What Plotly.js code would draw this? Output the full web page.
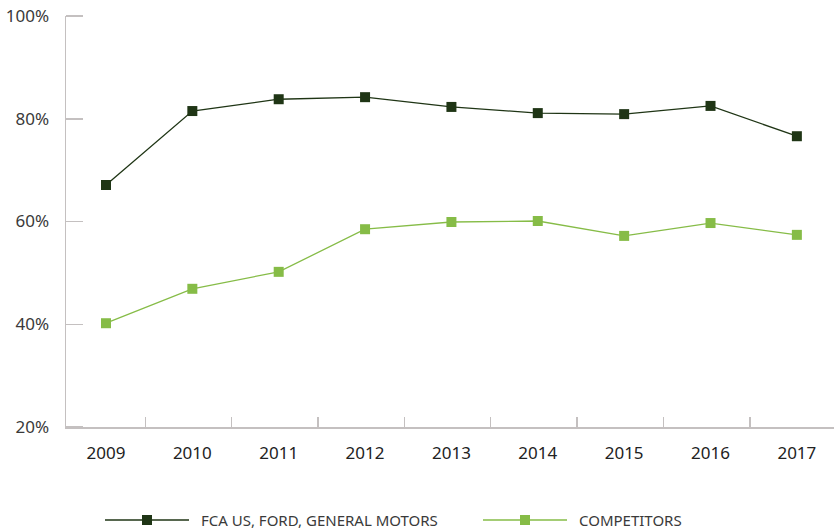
<!DOCTYPE html>
<html>
<head>
<meta charset="utf-8">
<script src="https://cdn.plot.ly/plotly-3.0.1.min.js"></script>
<style>html,body{margin:0;padding:0;background:#fff;}#chart{width:834px;height:529px;}</style>
</head>
<body>
<div id="chart"></div>
<script>
const years = ["2009","2010","2011","2012","2013","2014","2015","2016","2017"];
const detroitThree = [67.1, 81.5, 83.8, 84.2, 82.3, 81.1, 80.9, 82.5, 76.6];
const competitors = [40.2, 46.9, 50.2, 58.5, 59.9, 60.1, 57.2, 59.7, 57.4];
const seriesNames = ["FCA US, FORD, GENERAL MOTORS", "COMPETITORS"];
const yTicks = [20, 40, 60, 80, 100];
const yTickText = yTicks.map(v => v + "%");

const colors = ["#1f3515", "#86bc47"];
const xIdx = years.map((_, i) => i);
const boundaries = years.slice(1).map((_, i) => i + 0.455);

const fam = "Noto Sans, Open Sans, sans-serif";
const axisCol = "#c4c0c0";

const traces = [detroitThree, competitors].map((vals, k) => ({
  x: xIdx, y: vals, name: seriesNames[k], type: "scatter", mode: "lines+markers",
  showlegend: false,
  line: {color: colors[k], width: 1.3}, marker: {symbol: "square", size: 10, color: colors[k]}
}));

// custom legend (long line samples like the reference)
const legendX = [105, 483];
const legendLen = 84;
const legendY = 520;
const shapes = [];
const annotations = [];
legendX.forEach((px, k) => {
  shapes.push({type: "line", xref: "paper", yref: "paper",
    x0: (px - 66) / 768, x1: (px + legendLen - 66) / 768,
    y0: (427 - legendY) / 411, y1: (427 - legendY) / 411,
    line: {color: colors[k], width: 1.5}});
  const cx = px + legendLen / 2;
  shapes.push({type: "rect", xref: "paper", yref: "paper",
    x0: (cx - 5 - 66) / 768, x1: (cx + 5 - 66) / 768,
    y0: (427 - legendY - 5) / 411, y1: (427 - legendY + 5) / 411,
    fillcolor: colors[k], line: {width: 0}});
  annotations.push({xref: "paper", yref: "paper", x: (px + legendLen + 10 - 66) / 768,
    y: (427 - legendY) / 411, xanchor: "left", yanchor: "middle", showarrow: false,
    text: seriesNames[k], font: {family: fam, size: 15, color: "#3a3a3a"}});
});

const layout = {
  width: 834, height: 529,
  margin: {l: 66, r: 0, t: 16, b: 102},
  paper_bgcolor: "#fff", plot_bgcolor: "#fff",
  font: {family: fam, color: "#3a3a3a"},
  showlegend: false,
  shapes: shapes,
  annotations: annotations,
  xaxis: {
    range: [-0.463, 8.43], tickmode: "array", tickvals: xIdx, ticktext: years, ticks: "",
    showgrid: false, zeroline: false, showline: true, linecolor: axisCol, linewidth: 1.5,
    tickfont: {size: 17, color: "#222"}, ticklabelstandoff: 10,
    minor: {tickvals: boundaries, ticks: "inside", ticklen: 10, tickcolor: axisCol, tickwidth: 1.5, showgrid: false}
  },
  yaxis: {
    range: [20, 100], tickmode: "array", tickvals: yTicks, ticktext: yTickText, ticks: "",
    showgrid: false, zeroline: false, showline: true, linecolor: axisCol, linewidth: 1.5,
    tickfont: {size: 17, color: "#3a3a3a"}, ticklabelstandoff: 12,
    minor: {tickvals: yTicks, ticks: "inside", ticklen: 17, tickcolor: axisCol, tickwidth: 1.5, showgrid: false}
  }
};

Plotly.newPlot("chart", traces, layout, {displayModeBar: false, staticPlot: true});
</script>
</body>
</html>
